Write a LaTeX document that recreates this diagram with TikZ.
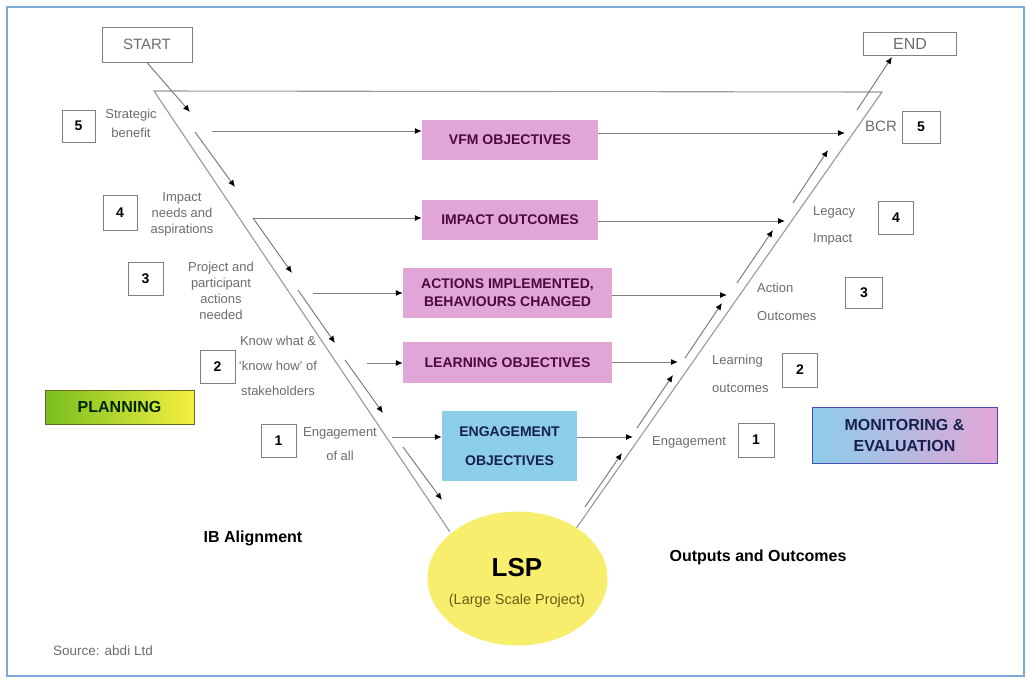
\documentclass[tikz,border=0pt]{standalone}
\usepackage{fontspec}
\setmainfont{Liberation Sans}
\usetikzlibrary{arrows.meta,shapes.geometric}

\definecolor{boxpink}{HTML}{E2A6D6}
\definecolor{pinktext}{HTML}{4A0A42}
\definecolor{boxblue}{HTML}{8CCDEA}
\definecolor{bluetext}{HTML}{16204F}
\definecolor{lspyellow}{HTML}{F6EE6C}
\definecolor{lsptext}{HTML}{6A5A18}
\definecolor{labelgray}{HTML}{6C6C6C}
\definecolor{linegray}{HTML}{7E7E7E}
\definecolor{frameblue}{HTML}{7DA8D8}
\definecolor{planleft}{HTML}{78BE1E}
\definecolor{planright}{HTML}{F4F040}

\begin{document}
\begin{tikzpicture}[x=1pt,y=-1pt,
    arr/.style={draw=linegray,line width=1pt,-{Latex[length=7pt,width=6pt,color=black]}},
    vline/.style={draw=linegray!80,line width=1.1pt},
    pinkbox/.style={fill=boxpink,text=pinktext,font=\fontsize{14}{18}\selectfont\bfseries,align=center,inner sep=0pt},
    numbox/.style={draw=gray,line width=1pt,fill=white,minimum width=35,minimum height=33,font=\fontsize{14}{16}\selectfont\bfseries,inner sep=0pt},
    lbl/.style={text=labelgray,font=\fontsize{13}{16}\selectfont,align=center,inner sep=0pt},
    note/.style={font=\fontsize{16}{18}\selectfont\bfseries,inner sep=0pt}]
    \useasboundingbox (0,0) rectangle (1027,683);
    \draw[frameblue,line width=1.5pt] (7,7) rectangle (1024,676);

    % funnel outline
    \draw[vline] (450,532) -- (154,91) -- (882,92) -- (575,530);

    \node[draw=gray,line width=1pt,minimum width=90,minimum height=35,text=labelgray,font=\fontsize{15}{17}\selectfont] (start) at (147,44.5) {START};
    \node[draw=gray,line width=1pt,minimum width=93,minimum height=23,text=labelgray,font=\fontsize{16}{18}\selectfont] (end) at (910,43.5) {END};

    \node[pinkbox,minimum width=176,minimum height=40] (vfm) at (510,140) {VFM OBJECTIVES};
    \node[pinkbox,minimum width=176,minimum height=40] (impact) at (510,220) {IMPACT OUTCOMES};
    \node[pinkbox,minimum width=209,minimum height=50] (actions) at (507.5,293) {ACTIONS IMPLEMENTED,\\BEHAVIOURS CHANGED};
    \node[pinkbox,minimum width=209,minimum height=41] (learning) at (507.5,362.5) {LEARNING OBJECTIVES};
    \node[pinkbox,fill=boxblue,text=bluetext,minimum width=135,minimum height=70] (engage) at (509.5,446) {ENGAGEMENT\\[11pt]OBJECTIVES};

    % arrows into the boxes
    \coordinate (in5) at (212,131);
    \coordinate (in4) at (253,218);
    \coordinate (in3) at (313,293);
    \coordinate (in2) at (367,363);
    \coordinate (in1) at (392,437);
    \draw[arr] (in5) -- (in5 -| vfm.west);
    \draw[arr] (in4) -- (in4 -| impact.west);
    \draw[arr] (in3) -- (in3 -| actions.west);
    \draw[arr] (in2) -- (in2 -| learning.west);
    \draw[arr] (in1) -- (in1 -| engage.west);

    % arrows out of the boxes
    \coordinate (out5) at (845,133);
    \coordinate (out4) at (785,221);
    \coordinate (out3) at (727,295);
    \coordinate (out2) at (678,362);
    \coordinate (out1) at (633,437);
    \draw[arr] (out5 -| vfm.east) -- (out5);
    \draw[arr] (out4 -| impact.east) -- (out4);
    \draw[arr] (out3 -| actions.east) -- (out3);
    \draw[arr] (out2 -| learning.east) -- (out2);
    \draw[arr] (out1 -| engage.east) -- (out1);

    % down the left side
    \draw[arr] (start.south) -- (190,112);
    \draw[arr] (195,132) -- (235,187);
    \draw[arr] (in4) -- (292,273);
    \draw[arr] (298,290) -- (335,343);
    \draw[arr] (345,360) -- (383,413);
    \draw[arr] (403,447) -- (442,500);

    % up the right side
    \draw[arr] (585,507) -- (622,453);
    \draw[arr] (637,428) -- (673,375);
    \draw[arr] (685,358) -- (722,303);
    \draw[arr] (737,283) -- (773,230);
    \draw[arr] (793,203) -- (828,150);
    \draw[arr] (857,110) -- (892,57);

    \node[ellipse,fill=lspyellow,minimum width=180,minimum height=134,inner sep=0pt] (lsp) at (517.5,578.5) {};
    \node[font=\fontsize{26}{28}\selectfont\bfseries,inner sep=0pt] (lsptitle) at (517,568) {LSP};
    \node[text=lsptext,font=\fontsize{14.5}{16}\selectfont,inner sep=0pt] (lspsub) at (517,601) {(Large Scale Project)};

    % left numbers
    \node[numbox,minimum width=33,minimum height=32] (l5) at (78.5,126) {5};
    \node[numbox,minimum width=34,minimum height=35] (l4) at (120,212.5) {4};
    \node[numbox] (l3) at (145.5,278.5) {3};
    \node[numbox] (l2) at (217.5,366.5) {2};
    \node[numbox] (l1) at (278.5,440.5) {1};
    \node[lbl] (strat) at (131,123) {Strategic\\[3pt]benefit};
    \node[lbl] (needs) at (182,214.5) {Impact\\needs and\\aspirations};
    \node[lbl] (project) at (221,291) {Project and\\participant\\actions\\needed};
    \node[lbl] (know) at (278,366) {Know what \&\\[9pt]`know how' of\\[9pt]stakeholders};
    \node[lbl] (engall) at (340,444) {Engagement\\[8pt]of all};

    % right numbers
    \node[numbox,minimum width=38,minimum height=32] (r5) at (921,127) {5};
    \node[numbox] (r4) at (896,218) {4};
    \node[numbox,minimum width=37,minimum height=31] (r3) at (864,292.5) {3};
    \node[numbox,minimum height=34] (r2) at (800,370) {2};
    \node[numbox,minimum width=36,minimum height=34] (r1) at (756,440) {1};
    \node[lbl,font=\fontsize{15}{17}\selectfont] (bcr) at (881,126) {BCR};
    \node[lbl,anchor=west,align=left] (legacy) at (813,225.5) {Legacy\\[11pt]Impact};
    \node[lbl,anchor=west,align=left] (actout) at (757,302) {Action\\[12pt]Outcomes};
    \node[lbl,anchor=west,align=left] (learnout) at (712,374) {Learning\\[12pt]outcomes};
    \node[lbl,anchor=west] (engout) at (652,442) {Engagement};

    \node[draw=olive!70!black,line width=0.8pt,left color=planleft,right color=planright,minimum width=149,minimum height=34,text=black!85!green,font=\fontsize{16}{18}\selectfont\bfseries] (planning) at (119.5,407) {PLANNING};
    \node[draw=gray!60!blue,line width=0.8pt,left color=boxblue,right color=boxpink,minimum width=185,minimum height=56,align=center,text=bluetext,font=\fontsize{16}{21}\selectfont\bfseries] (monitor) at (904.5,435) {MONITORING \&\\EVALUATION};

    \node[note] (ib) at (253,538) {IB Alignment};
    \node[note] (outputs) at (758,557) {Outputs and Outcomes};
    \node[lbl,font=\fontsize{13.5}{16}\selectfont] (source) at (103,651) {Source: abdi Ltd};
\end{tikzpicture}
\end{document}
